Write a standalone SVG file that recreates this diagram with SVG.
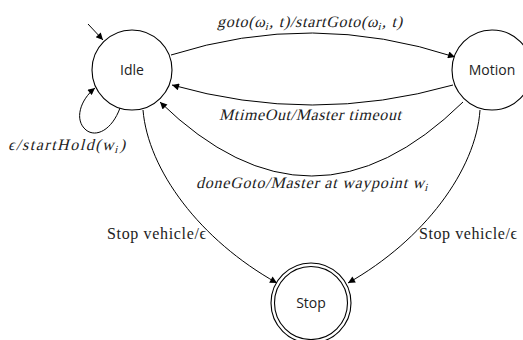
<svg xmlns="http://www.w3.org/2000/svg" width="523" height="340" viewBox="0 0 523 340">
<style>
.node{fill:#fff;stroke:#000;stroke-width:1.1}
.nl{font-family:'Open Sans','DejaVu Sans',sans-serif;font-size:14px;fill:#222;text-anchor:middle}
.edge{fill:none;stroke:#000;stroke-width:1}
.el{font-family:'Liberation Serif','DejaVu Serif',serif;font-size:16px;fill:#222}
.sub{font-size:11px}
</style>
<defs>
<marker id="ah" viewBox="0 0 10 10" refX="10" refY="5" markerWidth="9" markerHeight="7" markerUnits="userSpaceOnUse" orient="auto">
<path d="M0,0 L10,5 L0,10 z" fill="#000"/>
</marker>
</defs>
<g id="connectors">
<line class="edge" x1="88" y1="24" x2="103" y2="40" marker-end="url(#ah)"/>
<path class="edge" d="M120,108 C112,130 96,138 86,130 C74,120 80,100 95,88" marker-end="url(#ah)"/>
<path class="edge" d="M171,55 Q312,10 455,57" marker-end="url(#ah)"/>
<path class="edge" d="M453,85 Q312,125 172,85" marker-end="url(#ah)"/>
<path class="edge" d="M463,102 Q312,250 160,102" marker-end="url(#ah)"/>
<path class="edge" d="M143,110 C148,170 200,240 277,283" marker-end="url(#ah)"/>
<path class="edge" d="M480,110 C476,170 424,240 348,283" marker-end="url(#ah)"/>
</g>
<g id="labels">
<text class="el" transform="translate(217,27) skewX(-14)" textLength="185" lengthAdjust="spacing">goto(ω<tspan class="sub" dy="3">i</tspan><tspan dy="-3">, t)/startGoto(ω</tspan><tspan class="sub" dy="3">i</tspan><tspan dy="-3">, t)</tspan></text>
<text class="el" transform="translate(219,120) skewX(-14)" textLength="182" lengthAdjust="spacing">MtimeOut/Master timeout</text>
<text class="el" transform="translate(196,188) skewX(-14)" textLength="232" lengthAdjust="spacing">doneGoto/Master at waypoint w<tspan class="sub" dy="3">i</tspan></text>
<text class="el" transform="translate(8,150) skewX(-14)" textLength="117" lengthAdjust="spacing">ϵ/startHold(w<tspan class="sub" dy="3">i</tspan><tspan dy="-3">)</tspan></text>
<text class="el" x="107" y="239" textLength="99" lengthAdjust="spacing">Stop vehicle/ϵ</text>
<text class="el" x="419" y="239" textLength="98" lengthAdjust="spacing">Stop vehicle/ϵ</text>
</g>
<g id="idle">
<circle class="node" cx="132" cy="70" r="40"/>
<text class="nl" x="132" y="75">Idle</text>
</g>
<g id="motion">
<circle class="node" cx="492" cy="70" r="40"/>
<text class="nl" x="492" y="75">Motion</text>
</g>
<g id="stop">
<circle class="node" cx="311" cy="303" r="40"/>
<circle class="node" cx="311" cy="303" r="36.5"/>
<text class="nl" x="311" y="308">Stop</text>
</g>
</svg>
